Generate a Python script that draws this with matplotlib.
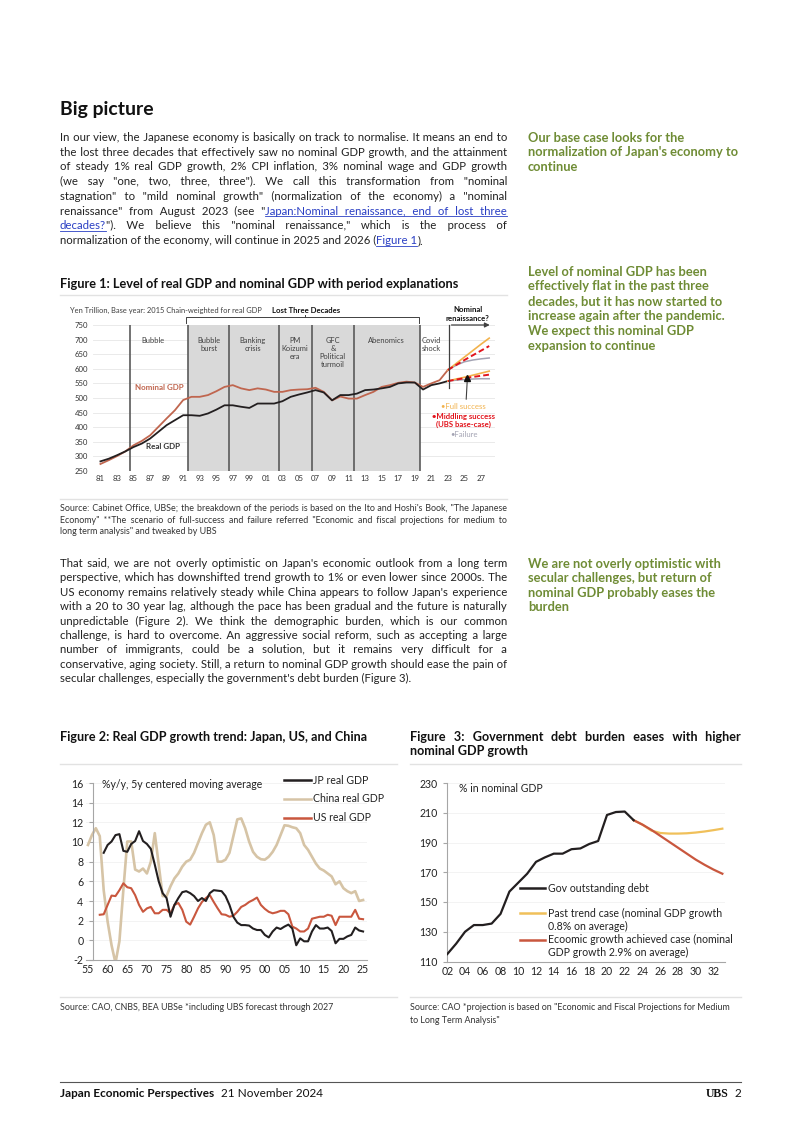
import matplotlib
matplotlib.use("Agg")
import matplotlib.pyplot as plt
from matplotlib.lines import Line2D
import numpy as np

plt.rcParams["axes.unicode_minus"] = False

# ---------------- data ----------------
# Figure 1: level of real / nominal GDP (yen trillion)
fig1_years = np.arange(1981, 2024)
nominal_gdp = [274, 287, 301, 317, 338, 353, 372, 401, 430, 458, 493, 504, 504, 510, 523,
               538, 544, 533, 527, 533, 529, 521, 521, 527, 529, 530, 535, 521, 492, 505,
               498, 498, 510, 521, 538, 544, 552, 556, 553, 538, 550, 561, 596]
real_gdp = [283, 292, 304, 317, 332, 344, 361, 384, 407, 424, 441, 441, 439, 447, 460,
            475, 475, 470, 466, 481, 481, 481, 489, 504, 512, 519, 527, 519, 492, 510,
            510, 515, 527, 529, 533, 538, 550, 553, 553, 529, 544, 550, 558]
proj_years = [2023, 2024, 2025, 2026, 2027, 2028]
nom_full = [596, 618, 640, 662, 684, 705]
nom_mid = [596, 613, 630, 646, 662, 678]
nom_fail = [596, 612, 624, 630, 634, 637]
real_full = [558, 565, 571, 578, 585, 592]
real_mid = [558, 563, 568, 572, 576, 580]
real_fail = [558, 561, 563, 565, 566, 566]
period_bounds = [1984.55, 1991.53, 1996.58, 2002.55, 2006.55, 2011.6, 2019.6]
period_names = ["Bubble", "Bubble\nburst", "Banking\ncrisis", "PM\nKoizumi\nera",
                "GFC\n&\nPolitical\nturmoil", "Abenomics", "Covid\nshock"]
period_centers = [1987.4, 1994.1, 1999.4, 2004.5, 2009.1, 2015.6, 2021.0]

# Figure 2: real GDP growth, %y/y 5y centered moving average
jp_years = np.arange(1959, 2026)
jp_growth = [8.9, 9.7, 10.05, 10.7, 10.8, 9.1, 9.0, 9.8, 10.1, 11.1, 10.1, 9.8, 9.3, 7.7,
             6.0, 4.8, 4.3, 2.4, 3.6, 4.3, 4.9, 5.0, 4.8, 4.5, 4.0, 4.3, 4.0, 4.8, 5.1,
             5.05, 5.0, 4.5, 3.6, 2.4, 1.8, 1.55, 1.55, 1.5, 1.2, 1.05, 1.05, 0.55, 0.3,
             0.9, 1.3, 1.15, 1.4, 1.6, 1.2, -0.5, 0.2, -0.1, -0.1, 0.9, 1.55, 1.2, 1.2,
             1.3, 0.95, -0.3, 0.15, 0.15, 0.4, 0.55, 1.3, 1.0, 0.9]
cn_years = np.arange(1955, 2026)
cn_growth = [9.7, 10.7, 11.4, 10.6, 5.1, 1.9, -0.5, -2.3, -0.1, 5.1,
             10.05, 10.05, 7.2, 7.0, 7.3, 6.8, 8.0, 10.9, 7.7, 4.5,
             4.5, 5.5, 6.3, 6.8, 7.5, 8.0, 8.2, 8.9, 9.9, 10.9,
             11.75, 12.0, 10.7, 8.0, 8.0, 8.2, 8.9, 10.6, 12.3, 12.4,
             11.4, 10.05, 9.0, 8.5, 8.25, 8.2, 8.5, 9.0, 9.7, 10.7,
             11.7, 11.65, 11.5, 11.4, 10.9, 9.7, 9.2, 8.5, 7.8, 7.3,
             7.1, 6.8, 6.5, 5.7, 6.0, 5.3, 5.0, 4.8, 5.0, 4.0, 4.1]
us_years = np.arange(1958, 2026)
us_growth = [2.6, 2.65, 3.6, 4.55, 4.5, 5.1, 5.8, 5.4, 5.3, 4.6,
             3.6, 2.9, 3.25, 3.4, 2.75, 2.75, 3.1, 3.1, 2.75, 3.6,
             3.8, 3.1, 1.9, 1.6, 2.4, 3.25, 3.9, 4.3, 4.6, 3.9,
             3.25, 2.65, 2.6, 2.4, 2.5, 2.9, 3.4, 3.6, 3.9, 4.1,
             4.35, 3.6, 3.2, 2.9, 2.75, 2.85, 3.0, 3.0, 2.65, 1.4,
             1.2, 0.9, 0.9, 1.2, 2.2, 2.3, 2.4, 2.4, 2.6, 2.5,
             1.55, 2.4, 2.4, 2.4, 2.4, 3.1, 2.2, 2.15]

# Figure 3: government debt, % of nominal GDP
debt_years = np.arange(2002, 2024)
gov_debt = [115, 122, 130, 134.5, 134.5, 135.5, 142, 157, 163, 169, 177, 180, 182.5,
            182.5, 185.5, 186, 189, 191, 208.5, 210.5, 210.8, 205]
case_years = np.arange(2023, 2034)
past_trend = [205, 202, 198, 196.4, 196, 196, 196.2, 196.7, 197.4, 198.3, 199.3]
growth_case = [205, 202, 198.5, 194.5, 190.5, 186.5, 182.5, 178.5, 175, 171.8, 169]

# ---------------- page setup ----------------
W, H = 802, 1134
fig = plt.figure(figsize=(W / 100, H / 100), dpi=100)
renderer = fig.canvas.get_renderer()

FONT = ["Lato", "DejaVu Sans"]
TXT = "#222222"
GREEN = "#6f8c35"
LINK = "#2a3fc4"
NOM = "#c0664f"
BLK = "#231f20"
CHINA = "#d6c4a6"
USC = "#c9573e"
YEL = "#f0c05a"
HAIR = "\u200a"


def fx(x):
    return x / W


def fy(y):
    return 1 - y / H


def axes_px(l, t, r, b):
    return fig.add_axes([fx(l), fy(b), (r - l) / W, (b - t) / H])


def hline(x0, x1, y, color="#e2e2e2", lw=1.0):
    fig.add_artist(Line2D([fx(x0), fx(x1)], [fy(y), fy(y)], color=color, lw=lw))


def text_w(s, **kw):
    t = fig.text(0, 0, s, **kw)
    w = t.get_window_extent(renderer).width
    t.remove()
    return w


def adv(s, **kw):
    # advance width of s, including leading / trailing spaces
    return text_w("|" + s + "|", **kw) - text_w("||", **kw)


def fit_size(lines, target, **kw):
    # font size at which the widest line is `target` pixels wide
    w = max(text_w(l.replace("~", ""), fontsize=10, **kw) for l in lines)
    return 10 * target / w


def base_y(y, fs):
    # y given as the middle of the capitals -> baseline position in pixels
    return y + 0.36 * fs * 100 / 72


def put_line(x0, x1, y, line, justify, color=TXT, **kw):
    words = line.split(" ")
    if justify and len(words) > 1:
        hw = max((text_w("a" + HAIR * 20 + "a", **kw) - text_w("aa", **kw)) / 20, 0.2)
        free = (x1 - x0) - sum(text_w(w.replace("~", ""), **kw) for w in words)
        step = free / (len(words) - 1)
        s, used = words[0], 0
        for i, w in enumerate(words[1:], 1):
            k = int(round(step * i / hw)) - used
            used += k
            s += HAIR * k + w
    else:
        s = " ".join(words)
    segs = s.split("~")  # odd segments are hyperlink text
    yb = base_y(y, kw["fontsize"])
    done = ""
    for i, seg in enumerate(segs):
        if seg:
            x = x0 + (adv(done, **kw) if done else 0)
            link = i % 2 == 1
            fig.text(fx(x), fy(yb), seg, va="baseline", color=LINK if link else color, **kw)
            if link:
                hline(x, x + adv(seg, **kw), yb + 1.6, color=LINK, lw=0.6)
        done += seg


def paragraph(lines, x0, x1, y0, dy, justify=True, **kw):
    for i, ln in enumerate(lines):
        put_line(x0, x1, y0 + i * dy, ln, justify and i < len(lines) - 1, **kw)


para1 = [
    "In our view, the Japanese economy is basically on track to normalise. It means an end to",
    "the lost three decades that effectively saw no nominal GDP growth, and the attainment",
    "of steady 1% real GDP growth, 2% CPI inflation, 3% nominal wage and GDP growth",
    "(we say \"one, two, three, three\"). We call this transformation from \"nominal",
    "stagnation\" to \"mild nominal growth\" (normalization of the economy) a \"nominal",
    "renaissance\" from August 2023 (see \"~Japan:Nominal renaissance, end of lost three~",
    "~decades?~\"). We believe this \"nominal renaissance,\" which is the process of",
    "normalization of the economy, will continue in 2025 and 2026 (~Figure 1~).",
]
para2 = [
    "That said, we are not overly optimistic on Japan's economic outlook from a long term",
    "perspective, which has downshifted trend growth to 1% or even lower since 2000s. The",
    "US economy remains relatively steady while China appears to follow Japan's experience",
    "with a 20 to 30 year lag, although the pace has been gradual and the future is naturally",
    "unpredictable (Figure 2). We think the demographic burden, which is our common",
    "challenge, is hard to overcome. An aggressive social reform, such as accepting a large",
    "number of immigrants, could be a solution, but it remains very difficult for a",
    "conservative, aging society. Still, a return to nominal GDP growth should ease the pain of",
    "secular challenges, especially the government's debt burden (Figure 3).",
]
src1 = ["Source: Cabinet Office, UBSe; the breakdown of the periods is based on the Ito and Hoshi's Book, \"The Japanese",
        "Economy\" **The scenario of full-success and failure referred \"Economic and fiscal projections for medium to",
        "long term analysis\" and tweaked by UBS"]
side1 = ["Our base case looks for the", "normalization of Japan's economy to", "continue"]
side2 = ["Level of nominal GDP has been", "effectively flat in the past three",
         "decades, but it has now started to", "increase again after the pandemic.",
         "We expect this nominal GDP", "expansion to continue"]
side3 = ["We are not overly optimistic with", "secular challenges, but return of",
         "nominal GDP probably eases the", "burden"]

body = dict(family=FONT, fontsize=fit_size(para1 + para2, 441, family=FONT))
side = dict(family=FONT, weight="bold", color=GREEN,
            fontsize=fit_size(["normalization of Japan's economy to"], 209, family=FONT, weight="bold"))
src = dict(family=FONT, color="#333333",
           fontsize=fit_size(src1[:2], 438, family=FONT))
tit = dict(family=FONT, weight="bold", color="#111111",
           fontsize=fit_size(["Figure 2: Real GDP growth trend: Japan, US, and China"], 306,
                             family=FONT, weight="bold"))

# heading + paragraph 1
head = fit_size(["Big picture"], 94, family=FONT, weight="bold")
fig.text(fx(60), fy(base_y(108, head)), "Big picture", family=FONT, fontsize=head,
         weight="bold", va="baseline", color="#111111")
paragraph(para1, 60, 507, 137, 14.7, **body)
paragraph(side1, 528, 740, 137, 14.8, justify=False, **side)
paragraph(side2, 528, 740, 271, 14.8, justify=False, **side)

# ---------------- Figure 1 ----------------
f1title = "Figure 1: Level of real GDP and nominal GDP with period explanations"
put_line(60, 507, 283, f1title, False, family=FONT, weight="bold", color="#111111",
         fontsize=fit_size([f1title], 397, family=FONT, weight="bold"))
hline(60, 507, 295)

ax1 = axes_px(93, 325, 495, 471)
ax1.set_xlim(1980.1, 2028.7)
ax1.set_ylim(250, 750)
for v in range(250, 751, 50):
    ax1.axhline(v, color="#e6e6e6", lw=0.6, zorder=0)
ax1.axvspan(period_bounds[1], period_bounds[-1], color="#d9d9d9", lw=0, zorder=1)
for b in period_bounds:
    ax1.axvline(b, color="#5a5a5a", lw=1.2, zorder=2)
for name, c in zip(period_names, period_centers):
    ax1.text(c, 708, name, ha="center", va="top", fontsize=5.4, family=FONT,
             color="#404040", linespacing=1.15, zorder=3)

ax1.plot(fig1_years, nominal_gdp, color=NOM, lw=1.3, zorder=4)
ax1.plot(fig1_years, real_gdp, color=BLK, lw=1.3, zorder=4)
ax1.plot(proj_years, nom_fail, color="#a3a3b3", lw=1.1, zorder=4)
ax1.plot(proj_years, real_fail, color="#a3a3b3", lw=1.1, zorder=4)
ax1.plot(proj_years, nom_full, color="#f2b24c", lw=1.2, zorder=5)
ax1.plot(proj_years, real_full, color="#f2b24c", lw=1.2, zorder=5)
ax1.plot(proj_years, nom_mid, color="#e2141c", lw=1.4, ls=(0, (3, 1.6)), zorder=6)
ax1.plot(proj_years, real_mid, color="#e2141c", lw=1.4, ls=(0, (3, 1.6)), zorder=6)

# nominal renaissance marker
ax1.plot([2023.1, 2023.1], [535, 750], color="#404040", lw=0.9, zorder=6, clip_on=False)
ax1.annotate("", xy=(2028.4, 750), xytext=(2023.1, 750),
             arrowprops=dict(arrowstyle="-|>", color="#404040", lw=0.9, mutation_scale=7),
             annotation_clip=False)
ax1.text(2025.4, 788, "Nominal\nrenaissance?", ha="center", va="center", fontsize=5.6,
         family=FONT, weight="bold", color="#111111", linespacing=1.3)
ax1.plot([2025.35], [570], marker="^", color="#111111", ms=4.5, zorder=7)
ax1.annotate("", xy=(2025.35, 563), xytext=(2025.2, 486),
             arrowprops=dict(arrowstyle="-", color="#404040", lw=0.8))

# lost three decades bracket
ax1.plot([1991.3, 1991.3, 2019.5, 2019.5], [756, 776, 776, 756], color="#404040",
         lw=0.7, clip_on=False)
ax1.plot([2005.7, 2005.7], [776, 784], color="#404040", lw=0.7, clip_on=False)
ax1.text(2005.8, 799, "Lost Three Decades", ha="center", va="center", fontsize=5.6,
         family=FONT, weight="bold", color="#111111")

ax1.text(1988.1, 537, "Nominal GDP", ha="center", va="center", fontsize=5.8, family=FONT,
         weight="bold", color=NOM, zorder=5)
ax1.text(1988.6, 333, "Real GDP", ha="center", va="center", fontsize=5.8, family=FONT,
         weight="bold", color="#333333", zorder=5)
ax1.text(2024.9, 472, "\u2022Full success", ha="center", va="center", fontsize=5.6,
         family=FONT, color="#f2b24c", zorder=5)
ax1.text(2024.9, 423, "\u2022Middling success\n(UBS base-case)", ha="center", va="center",
         fontsize=5.6, family=FONT, weight="bold", color="#e2141c", linespacing=1.25, zorder=5)
ax1.text(2024.9, 376, "\u2022Failure", ha="center", va="center", fontsize=5.6, family=FONT,
         color="#a3a3b3", zorder=5)

fig.text(fx(70), fy(310), "Yen Trillion, Base year: 2015 Chain-weighted for real GDP",
         fontsize=5.4, family=FONT, color="#404040", va="center")

for s in ax1.spines.values():
    s.set_visible(False)
ax1.set_yticks(range(250, 751, 50))
ax1.set_xticks(range(1981, 2028, 2))
ax1.set_xticklabels([f"{y % 100:02d}" for y in range(1981, 2028, 2)])
ax1.tick_params(length=0, labelsize=5.6, labelcolor="#333333", pad=3.2)
for lab in ax1.get_xticklabels() + ax1.get_yticklabels():
    lab.set_family(FONT)

hline(60, 507, 499)
paragraph(src1, 60, 507, 508, 11.6, **src)

# paragraph 2
paragraph(para2, 60, 507, 563, 14.4, **body)
paragraph(side3, 528, 740, 563, 14.6, justify=False, **side)

# ---------------- Figure 2 ----------------
put_line(60, 397, 736, "Figure 2: Real GDP growth trend: Japan, US, and China", False, **tit)
put_line(410, 741, 736, "Figure 3: Government debt burden eases with higher", True, **tit)
put_line(410, 741, 750, "nominal GDP growth", False, **tit)
hline(60, 397, 764)
hline(410, 741, 764)

ax2 = axes_px(86.4, 783, 367, 960)
ax2.set_xlim(1954.6, 2026)
ax2.set_ylim(-2, 16)
for v in range(0, 17, 2):
    ax2.axhline(v, color="#f1f1f1", lw=0.6, zorder=0)
ax2.plot(cn_years, cn_growth, color=CHINA, lw=1.9, zorder=2)
ax2.plot(us_years, us_growth, color=USC, lw=1.5, zorder=3)
ax2.plot(jp_years, jp_growth, color=BLK, lw=1.5, zorder=4)
ax2.spines["left"].set_position(("data", 1956.3))
for k in ["top", "right"]:
    ax2.spines[k].set_visible(False)
for k in ["left", "bottom"]:
    ax2.spines[k].set_color("#a6a6a6")
    ax2.spines[k].set_linewidth(0.8)
ax2.set_yticks(range(-2, 17, 2))
ax2.set_xticks(range(1955, 2026, 5))
ax2.set_xticklabels([f"{y % 100:02d}" for y in range(1955, 2026, 5)])
ax2.tick_params(axis="y", length=3, color="#a6a6a6", labelsize=7.6, labelcolor="#222222", pad=4)
ax2.tick_params(axis="x", length=0, labelsize=7.6, labelcolor="#222222", pad=3)
for lab in ax2.get_xticklabels() + ax2.get_yticklabels():
    lab.set_family(FONT)
fig.text(fx(102), fy(785), "%y/y, 5y centered moving average", fontsize=7.6, family=FONT,
         color="#222222", va="center")

leg2 = [("JP real GDP", BLK, 780), ("China real GDP", CHINA, 798.5), ("US real GDP", USC, 817.5)]
for lab, col, yy in leg2:
    fig.add_artist(Line2D([fx(284), fx(311)], [fy(yy), fy(yy)], color=col, lw=1.8))
    fig.text(fx(313), fy(yy), lab, fontsize=7.6, family=FONT, color="#222222", va="center")

hline(60, 397, 997)
put_line(60, 397, 1007, "Source: CAO, CNBS, BEA UBSe *including UBS forecast through 2027",
         False, **src)

# ---------------- Figure 3 ----------------
ax3 = axes_px(447.3, 783, 725, 961.5)
ax3.set_xlim(2002, 2033.3)
ax3.set_ylim(110, 230)
for v in range(130, 231, 20):
    ax3.axhline(v, color="#f1f1f1", lw=0.6, zorder=0)
ax3.plot(case_years, past_trend, color=YEL, lw=1.6, zorder=2)
ax3.plot(case_years, growth_case, color=USC, lw=1.6, zorder=3)
ax3.plot(debt_years, gov_debt, color=BLK, lw=1.6, zorder=4)
for k in ["top", "right"]:
    ax3.spines[k].set_visible(False)
for k in ["left", "bottom"]:
    ax3.spines[k].set_color("#a6a6a6")
    ax3.spines[k].set_linewidth(0.8)
ax3.set_yticks(range(110, 231, 20))
ax3.set_xticks(range(2002, 2033, 2))
ax3.set_xticklabels([f"{y % 100:02d}" for y in range(2002, 2033, 2)])
ax3.tick_params(axis="y", length=3, color="#a6a6a6", labelsize=7.6, labelcolor="#222222", pad=4)
ax3.tick_params(axis="x", length=0, labelsize=7.6, labelcolor="#222222", pad=3)
for lab in ax3.get_xticklabels() + ax3.get_yticklabels():
    lab.set_family(FONT)
fig.text(fx(459), fy(789), "% in nominal GDP", fontsize=7.6, family=FONT, color="#222222",
         va="center")

leg3 = [(["Gov outstanding debt"], BLK, 888),
        (["Past trend case (nominal GDP growth", "0.8% on average)"], YEL, 913),
        (["Ecoomic growth achieved case (nominal", "GDP growth 2.9% on average)"], USC, 939.5)]
for lines, col, yy in leg3:
    fig.add_artist(Line2D([fx(520), fx(545)], [fy(yy), fy(yy)], color=col, lw=1.8))
    for i, ln in enumerate(lines):
        fig.text(fx(547.5), fy(yy + 13 * i), ln, fontsize=7.6, family=FONT, color="#222222",
                 va="center")

hline(410, 741, 997)
paragraph(["Source: CAO *projection is based on \"Economic and Fiscal Projections for Medium",
           "to Long Term Analysis\""], 410, 741, 1007, 12.8, justify=False, **src)

# ---------------- footer ----------------
hline(60, 741, 1082, color="#555555", lw=0.8)
foot = fit_size(["Japan Economic Perspectives"], 154, family=FONT, weight="bold")
put_line(60, 400, 1093, "Japan Economic Perspectives", False, family=FONT, fontsize=foot,
         weight="bold", color="#111111")
put_line(221, 400, 1093, "21 November 2024", False, family=FONT, fontsize=foot, color="#111111")
fig.text(fx(741), fy(base_y(1093, foot)), "2", family=FONT, fontsize=foot, color="#111111",
         va="baseline", ha="right")
fig.text(fx(729), fy(base_y(1093, 8.5)), "UBS", family=["Liberation Serif", "DejaVu Serif"],
         fontsize=8.5, weight="bold", color="#111111", va="baseline", ha="right")

fig.savefig("out.png", dpi=100, facecolor="white")
